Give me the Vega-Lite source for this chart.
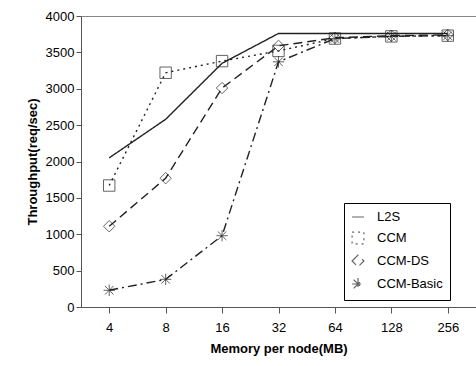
{
  "$schema": "https://vega.github.io/schema/vega-lite/v6.json",
  "width": 395,
  "height": 291,
  "autosize": {"type": "none"},
  "padding": {"left": 81, "top": 16, "right": 0, "bottom": 59},
  "background": "white",
  "config": {
    "font": "Liberation Sans",
    "view": {"stroke": "#888", "strokeWidth": 1},
    "axis": {"labelFont": "Liberation Sans", "titleFont": "Liberation Sans", "labelFontSize": 13, "titleFontSize": 13, "titleFontWeight": "bold", "labelColor": "black", "titleColor": "black", "domainColor": "#555", "tickColor": "#555", "grid": false},
    "legend": {"title": null, "orient": "none", "legendX": 263, "legendY": 187, "strokeColor": "black", "fillColor": "white", "padding": 7, "labelFontSize": 13, "labelColor": "black", "symbolStrokeColor": "#222", "symbolStrokeWidth": 1.2, "symbolSize": 140, "rowPadding": 5, "labelOffset": 12, "labelFont": "Liberation Sans"}
  },
  "data": {
    "values": [
      {"mem": "4", "series": "L2S", "tput": 2050},
      {"mem": "8", "series": "L2S", "tput": 2580},
      {"mem": "16", "series": "L2S", "tput": 3350},
      {"mem": "32", "series": "L2S", "tput": 3760},
      {"mem": "64", "series": "L2S", "tput": 3760},
      {"mem": "128", "series": "L2S", "tput": 3760},
      {"mem": "256", "series": "L2S", "tput": 3760},
      {"mem": "4", "series": "CCM", "tput": 1670},
      {"mem": "8", "series": "CCM", "tput": 3220},
      {"mem": "16", "series": "CCM", "tput": 3380},
      {"mem": "32", "series": "CCM", "tput": 3520},
      {"mem": "64", "series": "CCM", "tput": 3690},
      {"mem": "128", "series": "CCM", "tput": 3720},
      {"mem": "256", "series": "CCM", "tput": 3730},
      {"mem": "4", "series": "CCM-DS", "tput": 1110},
      {"mem": "8", "series": "CCM-DS", "tput": 1770},
      {"mem": "16", "series": "CCM-DS", "tput": 3010},
      {"mem": "32", "series": "CCM-DS", "tput": 3590},
      {"mem": "64", "series": "CCM-DS", "tput": 3700},
      {"mem": "128", "series": "CCM-DS", "tput": 3730},
      {"mem": "256", "series": "CCM-DS", "tput": 3740},
      {"mem": "4", "series": "CCM-Basic", "tput": 230},
      {"mem": "8", "series": "CCM-Basic", "tput": 380},
      {"mem": "16", "series": "CCM-Basic", "tput": 980},
      {"mem": "32", "series": "CCM-Basic", "tput": 3370},
      {"mem": "64", "series": "CCM-Basic", "tput": 3690},
      {"mem": "128", "series": "CCM-Basic", "tput": 3720},
      {"mem": "256", "series": "CCM-Basic", "tput": 3730}
    ]
  },
  "encoding": {
    "x": {"field": "mem", "type": "ordinal", "sort": ["4", "8", "16", "32", "64", "128", "256"], "title": "Memory per node(MB)", "scale": {"paddingInner": 0, "paddingOuter": 0}, "axis": {"labelAngle": 0, "bandPosition": 0, "tickSize": 6, "labelPadding": 8, "titlePadding": 8}},
    "y": {"field": "tput", "type": "quantitative", "title": "Throughput(req/sec)", "scale": {"domain": [0, 4000]}, "axis": {"values": [0, 500, 1000, 1500, 2000, 2500, 3000, 3500, 4000], "format": "d", "tickSize": 5, "titlePadding": 6}}
  },
  "layer": [
    {
      "mark": {"type": "line", "color": "#222", "strokeWidth": 1.4},
      "encoding": {
        "detail": {"field": "series"},
        "strokeDash": {"field": "series", "type": "nominal", "sort": ["L2S", "CCM", "CCM-DS", "CCM-Basic"], "scale": {"domain": ["L2S", "CCM", "CCM-DS", "CCM-Basic"], "range": [[1, 0], [2, 4], [9, 5], [9, 4, 2, 4]]}}
      }
    },
    {
      "transform": [{"filter": "datum.series !== 'L2S'"}],
      "mark": {"type": "point", "filled": false, "color": "#222", "strokeWidth": 1, "size": 130},
      "encoding": {
        "shape": {"field": "series", "type": "nominal", "sort": ["L2S", "CCM", "CCM-DS", "CCM-Basic"], "scale": {"domain": ["L2S", "CCM", "CCM-DS", "CCM-Basic"], "range": ["M-1,0L1,0", "square", "diamond", "M-1,0L1,0M0,-1L0,1M-0.75,-0.75L0.75,0.75M-0.75,0.75L0.75,-0.75"]}}
      }
    }
  ]
}
